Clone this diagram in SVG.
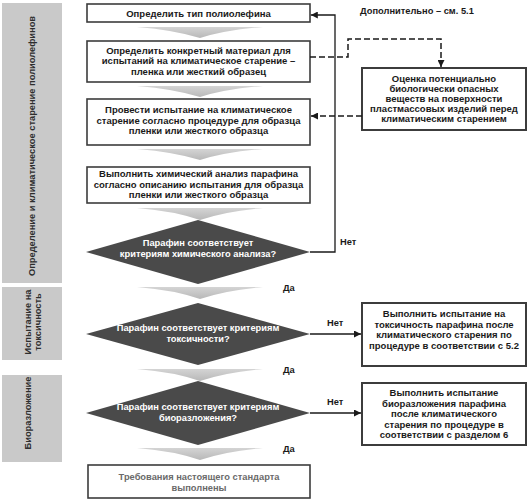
<svg xmlns="http://www.w3.org/2000/svg" width="529" height="500" viewBox="0 0 529 500">
<style>
text{font-family:"Liberation Sans",Arial,sans-serif;font-weight:bold;font-size:9.5px;fill:#1a1a1a}
.c{text-anchor:middle}
.bar{fill:#c9c9c9}
.bt{fill:#2e2e2e;font-size:9.3px}
.box{fill:#fff;stroke:#3c3c3c;stroke-width:1.6}
.box2{fill:#fff;stroke:#3c3c3c;stroke-width:2}
.dia{fill:#4a4a4a}
.dt{fill:#fff;font-size:9.3px}
.chev{fill:url(#cg)}
.ln{fill:none;stroke:#1a1a1a;stroke-width:1.3}
.dash{fill:none;stroke:#1a1a1a;stroke-width:1.5;stroke-dasharray:6,3}
.fin{fill:#6a6a6a;font-size:9.3px}
.lb{font-size:9.3px}
</style>
<defs>
<linearGradient id="cg" x1="0" y1="0" x2="0" y2="1">
<stop offset="0" stop-color="#d4d4d4"/>
<stop offset="1" stop-color="#b8b8b8"/>
</linearGradient>
<marker id="ah" viewBox="0 0 10 10" refX="10" refY="5" markerWidth="7" markerHeight="7" markerUnits="userSpaceOnUse" orient="auto">
<path d="M0,0 L10,5 L0,10 Z" fill="#1a1a1a"/>
</marker>
</defs>

<g id="bars">
<g id="bar1"><rect class="bar" x="2" y="3" width="60" height="280"/>
<text class="bt c" transform="translate(32,146) rotate(-90)" y="3">Определение и климатическое старение полиолефинов</text></g>
<g id="bar2"><rect class="bar" x="2" y="287" width="60" height="73"/>
<text class="bt c" transform="translate(32,322) rotate(-90)" y="-1">Испытание на</text>
<text class="bt c" transform="translate(32,322) rotate(-90)" y="9">токсичность</text></g>
<g id="bar3"><rect class="bar" x="2" y="375" width="60" height="87"/>
<text class="bt c" transform="translate(32,413) rotate(-90)" y="-1">Биоразложение</text></g>
</g>

<g id="chevrons">
<path class="chev" d="M137,27 L263,27 Q226,30 200,38 Q174,30 137,27 Z"/>
<path class="chev" d="M137,86 L263,86 Q226,89 200,97 Q174,89 137,86 Z"/>
<path class="chev" d="M137,149 L263,149 Q226,152 200,160 Q174,152 137,149 Z"/>
<path class="chev" d="M137,208 L263,208 Q226,211 200,220 Q174,211 137,208 Z"/>
<path class="chev" d="M137,287 L263,287 Q226,290 200,299 Q174,290 137,287 Z"/>
<path class="chev" d="M137,369 L263,369 Q226,372 200,381 Q174,372 137,369 Z"/>
<path class="chev" d="M137,448 L263,448 Q226,451 200,460 Q174,451 137,448 Z"/>
</g>

<g id="n1"><rect class="box" x="87" y="4" width="223" height="18"/>
<text class="c" x="198.5" y="16.5">Определить тип полиолефина</text></g>

<g id="n2"><rect class="box" x="87" y="41" width="223" height="41"/>
<text class="c" x="198.5" y="53.5">Определить конкретный материал для</text>
<text class="c" x="198.5" y="64">испытаний на климатическое старение –</text>
<text class="c" x="198.5" y="74.5">пленка или жесткий образец</text></g>

<g id="n3"><rect class="box" x="87" y="99" width="223" height="46"/>
<text class="c" x="198.5" y="113">Провести испытание на климатическое</text>
<text class="c" x="198.5" y="123.5">старение согласно процедуре для образца</text>
<text class="c" x="198.5" y="134">пленки или жесткого образца</text></g>

<g id="n4"><rect class="box" x="87" y="167" width="223" height="36"/>
<text class="c" x="198.5" y="177">Выполнить химический анализ парафина</text>
<text class="c" x="198.5" y="187.5">согласно описанию испытания для образца</text>
<text class="c" x="198.5" y="198">пленки или жесткого образца</text></g>

<g id="d1"><polygon class="dia" points="198,220 310,252 198,284 86,252"/>
<text class="c dt" x="198" y="246">Парафин соответствует</text>
<text class="c dt" x="198" y="257">критериям химического анализа?</text></g>

<g id="d2"><polygon class="dia" points="198,303 310,334 198,365 86,334"/>
<text class="c dt" x="198" y="331">Парафин соответствует критериям</text>
<text class="c dt" x="198" y="342">токсичности?</text></g>

<g id="d3"><polygon class="dia" points="198,381 310,413 198,445 86,413"/>
<text class="c dt" x="198" y="410">Парафин соответствует критериям</text>
<text class="c dt" x="198" y="421">биоразложения?</text></g>

<g id="n8"><rect class="box" x="88" y="465" width="222" height="33"/>
<text class="c fin" x="199" y="480">Требования настоящего стандарта</text>
<text class="c fin" x="199" y="491">выполнены</text></g>

<g id="n5"><rect class="box2" x="362" y="68" width="164" height="62"/>
<text class="c" x="444" y="82">Оценка потенциально</text>
<text class="c" x="444" y="92">биологически опасных</text>
<text class="c" x="444" y="102">веществ на поверхности</text>
<text class="c" x="444" y="112">пластмассовых изделий перед</text>
<text class="c" x="444" y="122">климатическим старением</text></g>

<g id="n6"><rect class="box2" x="362" y="303" width="164" height="63"/>
<text class="c" x="444" y="317">Выполнить испытание на</text>
<text class="c" x="444" y="327.5">токсичность парафина после</text>
<text class="c" x="444" y="338">климатического старения по</text>
<text class="c" x="444" y="348.5">процедуре в соответствии с 5.2</text></g>

<g id="n7"><rect class="box2" x="362" y="383" width="164" height="62"/>
<text class="c" x="444" y="396">Выполнить испытание</text>
<text class="c" x="444" y="406.5">биоразложения парафина</text>
<text class="c" x="444" y="417">после климатического</text>
<text class="c" x="444" y="427.5">старения по процедуре в</text>
<text class="c" x="444" y="438">соответствии с разделом 6</text></g>

<g id="connectors">
<polyline class="ln" points="310,252 335,252 335,15 310.8,15" marker-end="url(#ah)"/>
<polyline class="dash" points="310,57 348,57 348,39 441,39 441,67" marker-end="url(#ah)"/>
<line class="dash" x1="362" y1="116" x2="311" y2="116" marker-end="url(#ah)"/>
<line class="ln" x1="310" y1="334" x2="361" y2="334" marker-end="url(#ah)"/>
<line class="ln" x1="310" y1="413" x2="361" y2="413" marker-end="url(#ah)"/>
</g>

<g id="labels">
<text class="lb" x="360" y="14">Дополнительно – см. 5.1</text>
<text class="lb" x="340" y="245">Нет</text>
<text class="lb" x="327" y="326">Нет</text>
<text class="lb" x="327" y="405">Нет</text>
<text class="lb" x="283" y="291">Да</text>
<text class="lb" x="283" y="373">Да</text>
<text class="lb" x="283" y="452">Да</text>
</g>
</svg>
